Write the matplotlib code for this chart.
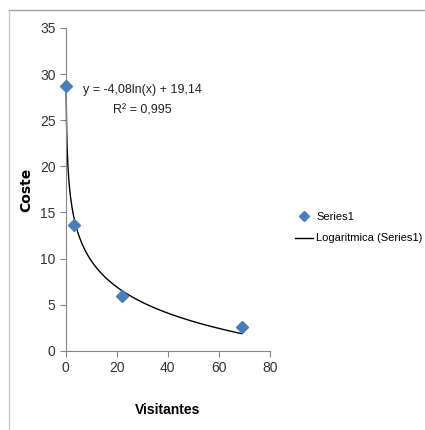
import matplotlib.pyplot as plt
import numpy as np
from matplotlib.lines import Line2D

# datos
visitantes = [0.1, 3, 22, 69]
coste = [28.7, 13.6, 6.0, 2.6]
# coeficientes de la linea de tendencia (y = a ln(x) + b)
coef_a = -4.08
coef_b = 19.14
ecuacion = 'y = -4,08ln(x) + 19,14'
r2 = 'R² = 0,995'

plt.rcParams['font.family'] = ['Liberation Sans', 'DejaVu Sans']

fig = plt.figure(figsize=(4.25, 4.30), dpi=100)

ax = fig.add_axes([0.155, 0.184, 0.48, 0.751])
ax.patch.set_alpha(0)

x_linea = np.linspace(min(visitantes), max(visitantes), 400)
ax.plot(x_linea, coef_a * np.log(x_linea) + coef_b, color='black', lw=1,
        label='Logaritmica (Series1)', clip_on=False)
ax.plot(visitantes, coste, 'D', color='#4a7ebb', ms=6, label='Series1', clip_on=False,
        zorder=3)

ax.set_xlim(0, 80)
ax.set_ylim(0, 35)
ax.set_xticks([0, 20, 40, 60, 80])
ax.set_yticks(range(0, 36, 5))
for s in ['top', 'right']:
    ax.spines[s].set_visible(False)
for s in ['left', 'bottom']:
    ax.spines[s].set_color('#868686')
ax.tick_params(colors='#868686', labelcolor='#333333', labelsize=10, length=4, width=0.8)

ax.set_xlabel('Visitantes', fontsize=10, fontweight='bold', labelpad=20)
ax.set_ylabel('Coste', fontsize=10, fontweight='bold', labelpad=5,
              family='DejaVu Sans')

ax.text(30, 28.3, ecuacion, fontsize=9, ha='center', va='center', color='#222222')
ax.text(30, 26.1, r2, fontsize=9, ha='center', va='center', color='#222222')

handles = [Line2D([], [], marker='D', color='#4a7ebb', ls='none', ms=5),
           Line2D([], [], color='black', lw=1)]
fig.legend(handles, ['Series1', 'Logaritmica (Series1)'], loc='center left',
           bbox_to_anchor=(0.695, 0.47), frameon=False, fontsize=8,
           handlelength=1.6, handletextpad=0.3, labelspacing=1.0,
           borderaxespad=0, borderpad=0)

# borde del area del grafico
fig.add_artist(Line2D([9 / 425, 1], [1 - 10 / 430, 1 - 10 / 430], color='#a0a0a0', lw=1))
fig.add_artist(Line2D([9 / 425, 9 / 425], [0, 1 - 10 / 430], color='#c8c8c8', lw=1))

plt.savefig('out.png', dpi=100)
